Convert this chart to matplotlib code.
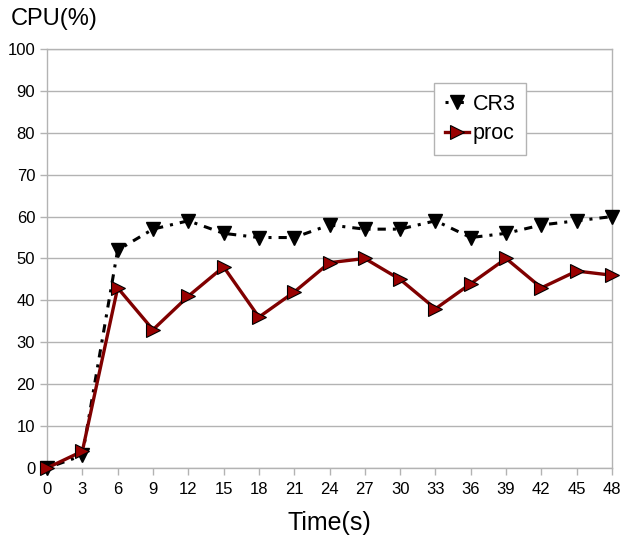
import matplotlib
matplotlib.use("Agg")
import matplotlib.pyplot as plt

plt.rcParams['font.family'] = ['Liberation Sans', 'DejaVu Sans']

time_s = [0, 3, 6, 9, 12, 15, 18, 21, 24, 27, 30, 33, 36, 39, 42, 45, 48]
cr3 = [0, 3, 52, 57, 59, 56, 55, 55, 58, 57, 57, 59, 55, 56, 58, 59, 60]
proc = [0, 4, 43, 33, 41, 48, 36, 42, 49, 50, 45, 38, 44, 50, 43, 47, 46]
y_ticks = list(range(0, 101, 10))

fig = plt.figure(figsize=(6.22, 5.37), dpi=100)
ax = fig.add_axes([0.0756, 0.1285, 0.9084, 0.7803])

grid_c = '#b3b3b3'
ax.set_xlim(0, 48)
ax.set_ylim(0, 100)
ax.set_xticks(time_s)
ax.set_yticks(y_ticks)
ax.yaxis.grid(True, color=grid_c, linewidth=1)
ax.set_axisbelow(True)
for s in ax.spines.values():
    s.set_color(grid_c)
    s.set_linewidth(1)
ax.tick_params(axis='both', colors=grid_c, labelcolor='black', labelsize=12, length=5, width=1)
ax.tick_params(axis='x', pad=5)

ax.plot(time_s, cr3, color='black', linewidth=2.2, dashes=(1, 2.3, 2.7, 2.3),
        marker='v', markersize=9.5, markerfacecolor='black', markeredgecolor='black',
        label='CR3', clip_on=False, zorder=3)
ax.plot(time_s, proc, color='#800000', linewidth=2.4,
        marker='>', markersize=9.5, markerfacecolor='#990000', markeredgecolor='black',
        markeredgewidth=0.8, label='proc', clip_on=False, zorder=4)

leg = ax.legend(loc='upper left', bbox_to_anchor=(0.685, 0.919), borderaxespad=0,
                fancybox=False, framealpha=1, edgecolor=grid_c, fontsize=15.5,
                handlelength=1.1, handletextpad=0.2, borderpad=0.5, labelspacing=0.4)
leg.get_frame().set_linewidth(1)

fig.text(0.018, 0.965, 'CPU(%)', fontsize=17, ha='left', va='center')
ax.set_xlabel('Time(s)', fontsize=18, labelpad=10)

fig.savefig('out.png', dpi=100)
